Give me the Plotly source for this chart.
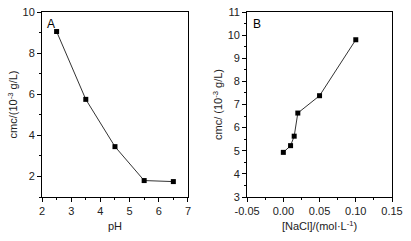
import plotly.graph_objects as go

ph = [2.5, 3.5, 4.5, 5.5, 6.5]
cmc_ph = [9.05, 5.75, 3.45, 1.80, 1.75]

nacl = [0.0, 0.01, 0.015, 0.02, 0.05, 0.10]
cmc_nacl = [4.93, 5.22, 5.63, 6.63, 7.38, 9.80]

fig = go.Figure()
fig.add_trace(go.Scatter(x=ph, y=cmc_ph, mode="lines+markers", xaxis="x", yaxis="y",
                         line=dict(color="#333333", width=1),
                         marker=dict(symbol="square", size=5, color="black"), showlegend=False))
fig.add_trace(go.Scatter(x=nacl, y=cmc_nacl, mode="lines+markers", xaxis="x2", yaxis="y2",
                         line=dict(color="#333333", width=1),
                         marker=dict(symbol="square", size=5, color="black"), showlegend=False))

font = dict(family="Liberation Sans, Arial", size=11, color="#222")
ax_common = dict(showline=True, linecolor="black", linewidth=1, mirror=True,
                 ticks="outside", ticklen=4, tickcolor="black", showgrid=False,
                 zeroline=False, tickfont=font, automargin=False,
                 ticklabeloverflow="allow")

fig.update_layout(
    width=411, height=241,
    margin=dict(l=42, r=19, t=12, b=44),
    plot_bgcolor="white", paper_bgcolor="white",
    font=font,
    xaxis=dict(domain=[0, 0.417], range=[2, 7], dtick=1, anchor="y",
               title=dict(text="pH", font=font, standoff=6),
               minor=dict(dtick=0.5, ticks="outside", ticklen=2, tickcolor="black"), **ax_common),
    yaxis=dict(domain=[0, 1], range=[1, 10], tickvals=[2, 4, 6, 8, 10], anchor="x",
               title=dict(text="cmc/(10<sup>-3</sup> g/L)", font=font, standoff=2),
               minor=dict(tickvals=[1, 3, 5, 7, 9], ticks="outside", ticklen=2, tickcolor="black"), **ax_common),
    xaxis2=dict(domain=[0.586, 1], range=[-0.05, 0.15], tickvals=[-0.05, 0, 0.05, 0.10, 0.15],
                ticktext=["-0.05", "0.00", "0.05", "0.10", "0.15"], anchor="y2",
                title=dict(text="[NaCl]/(mol·L<sup>-1</sup>)", font=font, standoff=6),
                minor=dict(dtick=0.025, tick0=0, ticks="outside", ticklen=2, tickcolor="black"), **ax_common),
    yaxis2=dict(domain=[0, 1], range=[3, 11], dtick=1, anchor="x2",
                title=dict(text="cmc/ (10<sup>-3</sup> g/L)", font=font, standoff=2),
                minor=dict(dtick=0.5, ticks="outside", ticklen=2, tickcolor="black"), **ax_common),
    annotations=[
        dict(text="A", xref="x domain", yref="y domain", x=0.02, y=0.985, xanchor="left", yanchor="top",
             showarrow=False, font=dict(family="Liberation Sans, Arial", size=12, color="black")),
        dict(text="B", xref="x2 domain", yref="y2 domain", x=0.03, y=0.985, xanchor="left", yanchor="top",
             showarrow=False, font=dict(family="Liberation Sans, Arial", size=12, color="black")),
    ],
)

fig.write_html("out.html", config={"displayModeBar": False},
               post_script="document.body.style.margin='0';")
